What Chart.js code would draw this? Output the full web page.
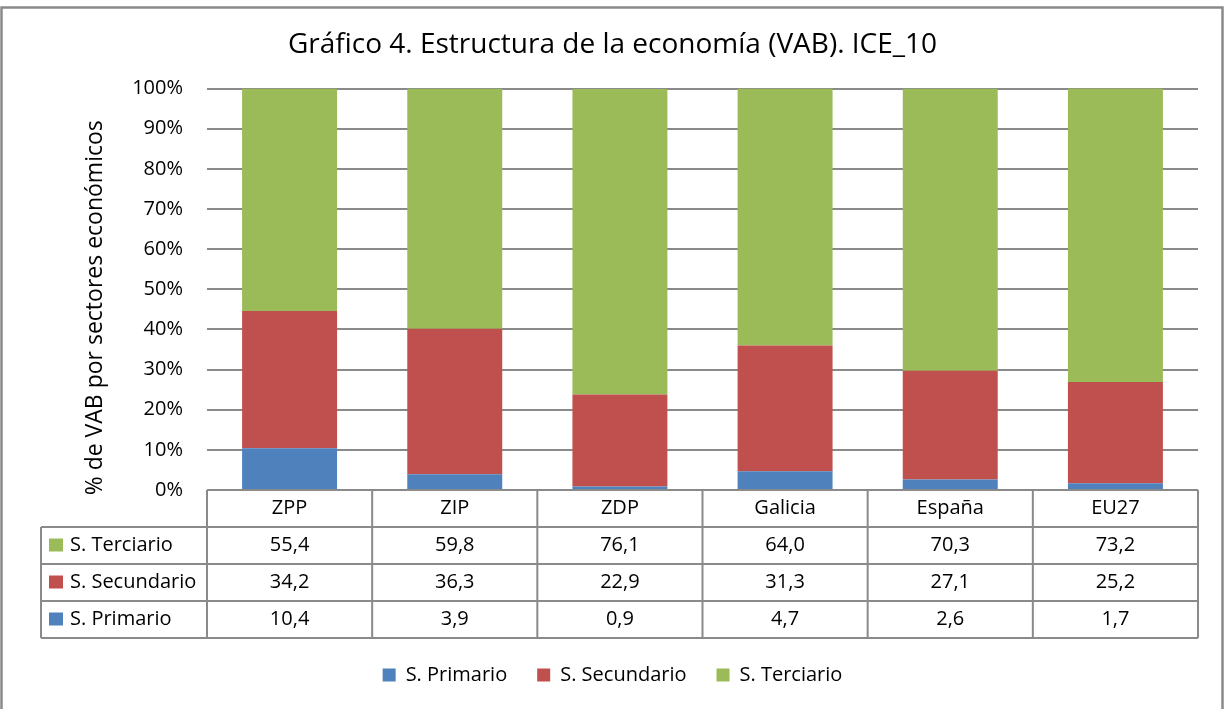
<!DOCTYPE html>
<html>
<head>
<meta charset="utf-8">
<script src="https://cdn.jsdelivr.net/npm/chart.js@4"></script>
<style>
  html, body { margin: 0; padding: 0; background: #fff; }
  #wrap { width: 1225px; height: 709px; }
</style>
</head>
<body>
<div id="wrap"><canvas id="vabChart" width="1225" height="709"></canvas></div>
<script>
// data
const categories = ['ZPP', 'ZIP', 'ZDP', 'Galicia', 'España', 'EU27'];
const primario = [10.4, 3.9, 0.9, 4.7, 2.6, 1.7];
const secundario = [34.2, 36.3, 22.9, 31.3, 27.1, 25.2];
const terciario = [55.4, 59.8, 76.1, 64.0, 70.3, 73.2];
const yTicks = [0, 10, 20, 30, 40, 50, 60, 70, 80, 90, 100];

const FONT = '"Open Sans", "Noto Sans", sans-serif';
const LINE = '#8a8a8a';

// table rows (top to bottom as in the picture)
const tableRows = [
    { label: 'S. Terciario', color: '#9BBB59', values: terciario },
    { label: 'S. Secundario', color: '#C0504D', values: secundario },
    { label: 'S. Primario', color: '#4F81BD', values: primario }
];

const fmt = v => v.toFixed(1).replace('.', ',');

// draws the data table under the bars, the y title and the outer frame
const tablePlugin = {
    id: 'dataTable',
    afterDraw(chart) {
        const ctx = chart.ctx;
        const area = chart.chartArea;
        const x = chart.scales.x;
        const rowH = 37;
        const top = area.bottom;
        const colW = (area.right - area.left) / categories.length;
        const labelLeft = 41;

        ctx.save();
        ctx.strokeStyle = LINE;
        ctx.lineWidth = 2;

        // horizontal lines
        ctx.beginPath();
        ctx.moveTo(area.left, top);
        ctx.lineTo(area.right, top);
        for (let r = 1; r <= tableRows.length + 1; r++) {
            ctx.moveTo(labelLeft, top + r * rowH);
            ctx.lineTo(area.right, top + r * rowH);
        }
        // vertical lines
        for (let c = 0; c <= categories.length; c++) {
            ctx.moveTo(area.left + c * colW, top);
            ctx.lineTo(area.left + c * colW, top + (tableRows.length + 1) * rowH);
        }
        ctx.moveTo(labelLeft, top + rowH);
        ctx.lineTo(labelLeft, top + (tableRows.length + 1) * rowH);
        ctx.stroke();

        ctx.fillStyle = '#000';
        ctx.font = '20px ' + FONT;
        ctx.textBaseline = 'middle';
        ctx.textAlign = 'center';
        categories.forEach((cat, i) => {
            ctx.fillText(cat, x.getPixelForValue(i), top + rowH / 2);
        });
        tableRows.forEach((row, r) => {
            const cy = top + (r + 1) * rowH + rowH / 2;
            ctx.fillStyle = row.color;
            ctx.fillRect(49, cy - 7, 14, 13);
            ctx.fillStyle = '#000';
            ctx.textAlign = 'left';
            ctx.fillText(row.label, 70, cy);
            ctx.textAlign = 'center';
            row.values.forEach((v, i) => {
                ctx.fillText(fmt(v), x.getPixelForValue(i), cy);
            });
        });

        // y axis title
        ctx.save();
        ctx.translate(95, (area.top + top + rowH) / 2);
        ctx.rotate(-Math.PI / 2);
        ctx.font = '23px ' + FONT;
        ctx.textAlign = 'center';
        ctx.fillText('% de VAB por sectores económicos', 0, 0);
        ctx.restore();

        // outer frame
        ctx.lineWidth = 2.5;
        ctx.strokeRect(1.5, 7.5, 1221, 720);
        ctx.restore();
    }
};

new Chart(document.getElementById('vabChart'), {
    type: 'bar',
    data: {
        labels: categories,
        datasets: [
            { label: 'S. Primario', data: primario, backgroundColor: '#4F81BD' },
            { label: 'S. Secundario', data: secundario, backgroundColor: '#C0504D' },
            { label: 'S. Terciario', data: terciario, backgroundColor: '#9BBB59' }
        ]
    },
    options: {
        responsive: false,
        animation: false,
        layout: { padding: { top: 8, left: 27, right: 27, bottom: 14 } },
        datasets: { bar: { categoryPercentage: 1, barPercentage: 0.575 } },
        scales: {
            x: {
                stacked: true,
                grid: { display: false },
                border: { display: false },
                ticks: { display: false },
                afterFit: scale => { scale.height = 145; }
            },
            y: {
                stacked: true,
                min: 0,
                max: 100,
                afterBuildTicks: scale => { scale.ticks = yTicks.map(v => ({ value: v })); },
                afterFit: scale => { scale.width = 180; },
                grid: { color: LINE, lineWidth: 2, drawTicks: false },
                border: { display: false },
                ticks: {
                    padding: 24,
                    color: '#000',
                    font: { family: FONT, size: 20 },
                    callback: v => v + '%'
                }
            }
        },
        plugins: {
            title: {
                display: true,
                text: 'Gráfico 4. Estructura de la economía (VAB). ICE_10',
                color: '#000',
                font: { family: FONT, size: 28, weight: 'normal' },
                padding: { top: 20, bottom: 27 }
            },
            legend: {
                position: 'bottom',
                labels: {
                    boxWidth: 13,
                    boxHeight: 13,
                    padding: 30,
                    color: '#000',
                    font: { family: FONT, size: 20 }
                }
            },
            tooltip: { enabled: false }
        }
    },
    plugins: [tablePlugin]
});
</script>
</body>
</html>
